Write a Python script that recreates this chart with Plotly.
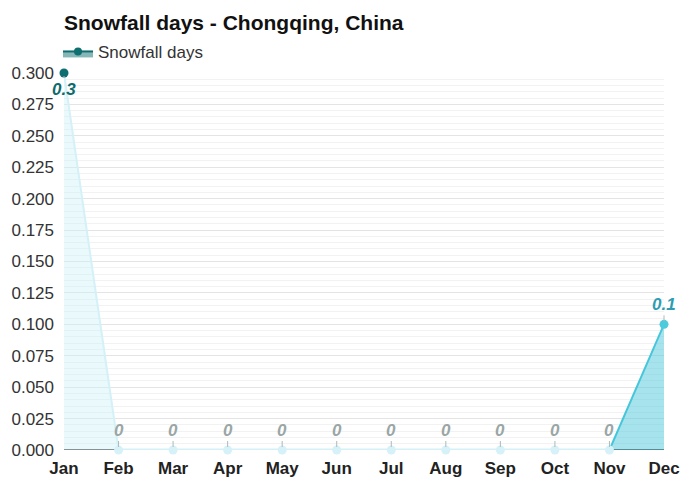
import plotly.graph_objects as go

# data
months = ["Jan", "Feb", "Mar", "Apr", "May", "Jun",
          "Jul", "Aug", "Sep", "Oct", "Nov", "Dec"]
snow_days = [0.3, 0, 0, 0, 0, 0, 0, 0, 0, 0, 0, 0.1]
labels = ["0.3", "0", "0", "0", "0", "0", "0", "0", "0", "0", "0", "0.1"]


def point_color(v):
    if v >= 0.3:
        return "#0e6e70"
    if v >= 0.1:
        return "#4ccbdd"
    return "#d6f1f7"


def label_color(v):
    if v >= 0.3:
        return "#0e6a6c"
    if v >= 0.1:
        return "#2e9db2"
    return "#9aa6a6"


def seg_style(v):
    # line colour, fill colour of a segment, by its right hand value
    if v >= 0.1:
        return "#45c6da", "rgba(79,200,220,0.5)"
    return "#d4f1f7", "rgba(200,240,248,0.4)"


fig = go.Figure()

# area segments
for i in range(len(months) - 1):
    lc, fc = seg_style(snow_days[i + 1])
    seg_x = [months[i], months[i + 1]]
    flat = snow_days[i] == 0 and snow_days[i + 1] == 0
    if not flat:
        # dark baseline under the sloped pieces
        fig.add_trace(go.Scatter(
            x=seg_x, y=[0, 0], mode="lines", line=dict(color="#555", width=2),
            showlegend=False, hoverinfo="skip"))
    fig.add_trace(go.Scatter(
        x=seg_x, y=[snow_days[i], snow_days[i + 1]],
        mode="lines", fill="tozeroy", fillcolor=fc,
        line=dict(color=lc, width=3 if flat else 2),
        showlegend=False, hoverinfo="skip"))

# points
fig.add_trace(go.Scatter(
    x=months, y=snow_days, mode="markers", cliponaxis=False,
    marker=dict(size=9, color=[point_color(v) for v in snow_days]),
    showlegend=False))

# legend entry
fig.add_trace(go.Scatter(
    x=[None], y=[None], mode="lines+markers", name="Snowfall days",
    fill="tozeroy", fillcolor="rgba(14,110,112,0.5)",
    line=dict(color="#0e6e70", width=2), marker=dict(size=8, color="#0e6e70")))

# value labels
for m, v, t in zip(months, snow_days, labels):
    below = v >= max(snow_days)
    fig.add_annotation(
        x=m, y=v, text=f"<b><i>{t}</i></b>", showarrow=True,
        arrowhead=0, arrowwidth=1, arrowcolor="#b0b8b8",
        ax=0, ay=16 if below else -20, standoff=3,
        font=dict(size=17, color=label_color(v)))

# the page adds an 8px body margin, so margins are set 8px smaller on top/left
fig.update_layout(
    width=700, height=490,
    margin=dict(l=56, r=44, t=65, b=48, autoexpand=False),
    paper_bgcolor="white", plot_bgcolor="white",
    font=dict(family="Liberation Sans, Arial, sans-serif", color="#333"),
    title=dict(text="<b>Snowfall days - Chongqing, China</b>",
               font=dict(size=21, color="#111"),
               x=0, xref="paper", xanchor="left",
               y=0.971, yref="container", yanchor="middle"),
    legend=dict(orientation="h", x=-0.01, xanchor="left", y=1.056,
                yanchor="middle", font=dict(size=17, color="#333"),
                bgcolor="rgba(0,0,0,0)", itemwidth=30),
)

fig.update_xaxes(
    type="category", range=[0, 11], showgrid=False, showline=False,
    automargin=False, ticks="", ticklabelstandoff=6,
    tickfont=dict(size=17, color="#222", weight="bold"))

fig.update_yaxes(
    range=[0, 0.3], dtick=0.025, tickformat=".3f", automargin=False,
    showgrid=True, gridcolor="#e4e4e4", gridwidth=1, zeroline=False,
    ticks="", ticklabelstandoff=9, tickfont=dict(size=17, color="#333"),
    minor=dict(dtick=0.005, showgrid=True, gridcolor="#f2f2f2", gridwidth=1))

fig.write_html("out.html")
